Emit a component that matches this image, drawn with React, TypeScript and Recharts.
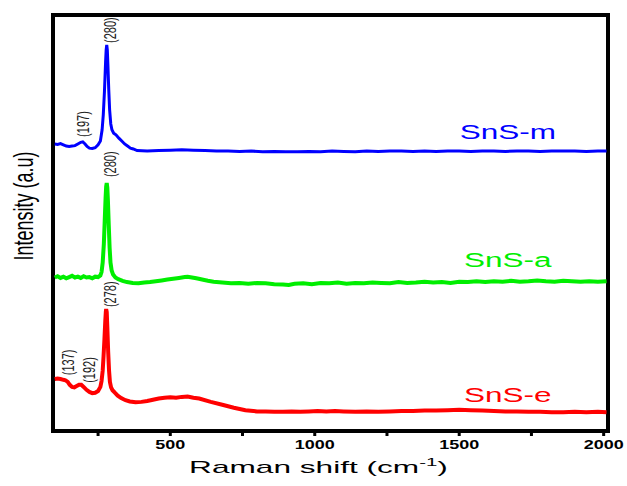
import { LineChart, Line, XAxis, YAxis, ReferenceArea, ReferenceDot } from 'recharts';

// SnS-m (blue)
const shiftM = [
  100, 110, 120, 130, 140, 150, 160, 170, 180, 190, 197, 205, 212, 220, 230, 240, 250, 258, 264, 268,
  272, 276, 278, 280, 282, 284, 287, 290, 294, 298, 304, 312, 322, 332, 342, 352, 362, 372, 385, 420,
  460, 500, 540, 580, 620, 660, 700, 740, 780, 820, 860, 900, 940, 980, 1020, 1060, 1100, 1140, 1180, 1220,
  1260, 1300, 1340, 1380, 1420, 1460, 1500, 1540, 1580, 1620, 1660, 1700, 1740, 1780, 1820, 1860, 1900, 1940, 1980, 2010,
];
const intensityM = [
  69.0, 68.9, 69.1, 68.8, 68.5, 68.4, 68.5, 68.6, 69.0, 69.4, 69.5, 69.0, 68.4, 68.0, 67.9, 68.1, 68.8, 69.7, 72.4, 76.0,
  81.5, 88.7, 91.6, 92.8, 91.6, 88.0, 82.0, 77.2, 73.8, 72.4, 71.6, 71.2, 70.4, 69.7, 69.0, 68.5, 68.0, 67.8, 67.4, 67.3,
  67.4, 67.5, 67.6, 67.5, 67.4, 67.3, 67.3, 67.2, 67.3, 67.1, 67.2, 67.1, 67.1, 67.2, 67.1, 67.3, 67.2, 67.1, 67.3, 67.2,
  67.3, 67.3, 67.2, 67.3, 67.2, 67.3, 67.3, 67.2, 67.3, 67.3, 67.2, 67.3, 67.3, 67.2, 67.3, 67.3, 67.3, 67.2, 67.3, 67.3,
];

// SnS-a (green)
const shiftA = [
  100, 110, 120, 130, 140, 150, 160, 170, 180, 190, 200, 210, 220, 230, 240, 250, 258, 262, 266, 270,
  273, 276, 278, 280, 282, 284, 287, 290, 293, 297, 302, 310, 320, 335, 350, 370, 390, 410, 430, 450,
  470, 490, 510, 530, 550, 560, 575, 590, 610, 630, 650, 680, 710, 740, 770, 800, 830, 860, 890, 910,
  930, 960, 990, 1020, 1050, 1080, 1110, 1140, 1170, 1200, 1230, 1260, 1290, 1320, 1350, 1380, 1410, 1440, 1470, 1500,
  1530, 1560, 1590, 1620, 1650, 1680, 1710, 1740, 1770, 1800, 1830, 1860, 1890, 1920, 1950, 1980, 2010,
];
const intensityA = [
  36.9, 37.2, 36.8, 37.1, 36.7, 37.0, 37.3, 36.9, 37.1, 36.8, 37.2, 36.9, 37.0, 36.7, 37.1, 37.0, 37.4, 38.2, 40.5, 45.0,
  50.5, 56.0, 58.8, 59.6, 58.5, 55.5, 49.5, 44.0, 40.5, 38.6, 37.6, 36.9, 36.5, 36.1, 35.8, 35.6, 35.5, 35.7, 35.8, 36.0,
  36.2, 36.4, 36.6, 36.8, 37.0, 37.1, 36.9, 36.7, 36.4, 36.1, 35.9, 35.7, 35.5, 35.6, 35.4, 35.6, 35.5, 35.3, 35.2, 35.1,
  35.4, 35.5, 35.3, 35.6, 35.5, 35.7, 35.4, 35.6, 35.5, 35.7, 35.6, 35.5, 35.8, 35.6, 35.7, 35.9, 35.7, 35.8, 35.6, 35.9,
  35.8, 36.0, 35.8, 36.0, 35.9, 36.1, 35.9, 36.0, 36.2, 36.0, 35.9, 36.1, 36.0, 35.9, 36.0, 35.9, 36.0,
];

// SnS-e (red)
const shiftE = [
  100, 110, 120, 130, 137, 145, 152, 160, 168, 176, 184, 192, 200, 210, 220, 230, 240, 250, 258, 262,
  266, 269, 272, 275, 277, 278, 280, 282, 285, 288, 291, 295, 300, 308, 318, 330, 345, 360, 380, 400,
  420, 440, 460, 480, 500, 520, 540, 560, 580, 600, 640, 680, 720, 760, 800, 830, 860, 890, 920, 950,
  980, 1010, 1040, 1070, 1100, 1140, 1180, 1220, 1260, 1300, 1340, 1380, 1420, 1460, 1500, 1540, 1580, 1620, 1660, 1700,
  1740, 1780, 1820, 1860, 1900, 1940, 1980, 2010,
];
const intensityE = [
  12.5, 12.6, 12.5, 12.3, 12.2, 11.8, 11.1, 10.6, 10.5, 10.8, 11.1, 11.1, 10.6, 9.9, 9.4, 9.1, 9.2, 9.6, 10.6, 12.0,
  14.5, 18.0, 22.0, 26.5, 28.8, 29.3, 28.6, 25.0, 19.0, 14.5, 11.8, 10.5, 9.8, 9.2, 8.5, 7.9, 7.4, 7.1, 6.9, 7.0,
  7.2, 7.5, 7.8, 8.0, 8.1, 8.0, 8.2, 8.3, 8.0, 7.8, 7.0, 6.3, 5.6, 5.0, 4.7, 4.7, 4.6, 4.6, 4.7, 4.6,
  4.7, 4.8, 4.7, 4.8, 4.7, 4.6, 4.7, 4.6, 4.7, 4.8, 4.8, 4.9, 4.9, 5.0, 5.1, 5.0, 4.9, 4.8, 4.7, 4.7,
  4.6, 4.6, 4.5, 4.5, 4.6, 4.5, 4.6, 4.5,
];

const xTicks = [250, 500, 750, 1000, 1250, 1500, 1750, 2000];
const xTickLabels = [500, 1000, 1500, 2000];

// peak annotations: [shift, intensity, text, dx, dy]
const peakLabels: [number, number, string, number, number][] = [
  [280, 92.8, '(280)', 3.5, -2],
  [197, 69.5, '(197)', 0.5, -5],
  [280, 59.6, '(280)', 3.5, -6],
  [278, 29.3, '(278)', 4, -2],
  [137, 12.2, '(137)', 2.5, -5],
  [192, 11.1, '(192)', 8, -2],
];

const seriesNames = ['SnS-m', 'SnS-a', 'SnS-e'];
const seriesColors = ['#0000ff', '#00ee00', '#ff0000'];
const seriesWidths = [3, 4, 4];

const FONT = '"Liberation Sans", Arial, sans-serif';
const SX = 1.5; // the original figure is stretched horizontally

const toRows = (xs: number[], ys: number[]) => xs.map((s, i) => ({ shift: s, value: ys[i] }));
const series = [toRows(shiftM, intensityM), toRows(shiftA, intensityA), toRows(shiftE, intensityE)];
const nameAnchors = [67.3, 35.8, 4.6];
const nameOffsets = [-12, -15, -10];

const XTick = (props: any) => {
  const { x, y, payload } = props;
  if (!xTickLabels.includes(payload.value)) return null;
  return (
    <text
      transform={`translate(${x},${y + 11}) scale(${SX},1)`}
      textAnchor="middle"
      fontFamily={FONT}
      fontWeight="bold"
      fontSize={12}
      fill="#000"
    >
      {payload.value}
    </text>
  );
};

const XTitle = (props: any) => {
  const { viewBox } = props;
  const cx = viewBox.x + viewBox.width / 2 - 12;
  return (
    <text
      transform={`translate(${cx},${viewBox.y + 42}) scale(1.86,1)`}
      textAnchor="middle"
      fontFamily={FONT}
      fontSize={17}
      fill="#000"
    >
      Raman shift (cm
      <tspan fontSize={11} dy={-7}>-1</tspan>
      <tspan dy={7}>)</tspan>
    </text>
  );
};

export default function App() {
  return (
    <div style={{ position: 'absolute', left: 0, top: 0, background: '#fff' }}>
      <LineChart width={627} height={486} margin={{ top: 15, right: 19, bottom: 15, left: 53 }}>
        <XAxis
          type="number"
          dataKey="shift"
          domain={[94, 2015]}
          ticks={xTicks}
          allowDataOverflow
          axisLine={false}
          tickSize={5}
          tickLine={{ stroke: '#000', strokeWidth: 3 }}
          tick={<XTick />}
          height={40}
          label={<XTitle />}
        />
        <YAxis type="number" domain={[0, 100]} hide />
        <ReferenceArea x1={94} x2={2015} y1={0} y2={100} fill="none" stroke="#000" strokeWidth={4} ifOverflow="visible" />
        {series.map((rows, i) => (
          <Line
            key={seriesNames[i]}
            data={rows}
            dataKey="value"
            type="linear"
            stroke={seriesColors[i]}
            strokeWidth={seriesWidths[i]}
            dot={false}
            isAnimationActive={false}
          />
        ))}
        <ReferenceDot
          x={94}
          y={50}
          ifOverflow="visible"
          shape={(p: any) => (
            <text
              transform={`translate(${p.cx - 20},${p.cy - 17}) scale(${SX},1) rotate(-90)`}
              textAnchor="middle"
              fontFamily={FONT}
              fontSize={18}
              fill="#000"
            >
              Intensity (a.u)
            </text>
          )}
        />
        {peakLabels.map(([s, v, t, dx, dy], i) => (
          <ReferenceDot
            key={'pk' + i}
            x={s}
            y={v}
            ifOverflow="visible"
            shape={(p: any) => (
              <text
                transform={`translate(${p.cx + dx},${p.cy + dy}) scale(${SX},1) rotate(-90)`}
                textAnchor="start"
                dominantBaseline="central"
                fontFamily={FONT}
                fontSize={11}
                fill="#222"
              >
                {t}
              </text>
            )}
          />
        ))}
        {seriesNames.map((n, i) => (
          <ReferenceDot
            key={'nm' + i}
            x={1668}
            y={nameAnchors[i]}
            ifOverflow="visible"
            shape={(p: any) => (
              <text
                transform={`translate(${p.cx},${p.cy + nameOffsets[i]}) scale(${SX},1)`}
                textAnchor="middle"
                fontFamily={FONT}
                fontSize={21}
                fill={seriesColors[i]}
              >
                {n}
              </text>
            )}
          />
        ))}
      </LineChart>
    </div>
  );
}
